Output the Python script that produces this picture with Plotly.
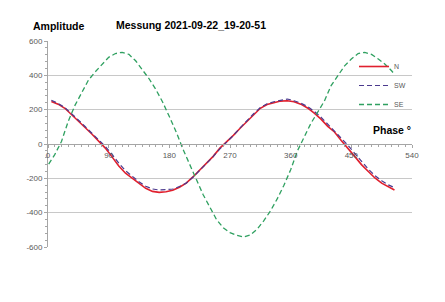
import plotly.graph_objects as go

# ---- data ----
phase_n = [5, 15, 25, 35, 45, 55, 65, 75, 85, 95, 105, 115, 125, 135, 145, 155, 165, 175, 185, 195,
           205, 215, 225, 235, 245, 255, 265, 275, 285, 295, 305, 315, 325, 335, 345, 355, 365, 375,
           385, 395, 405, 415, 425, 435, 445, 455, 465, 475, 485, 495, 505, 514]
n_vals = [248, 232, 208, 172, 134, 96, 58, 18, -24, -75, -128, -170, -200, -232, -258, -276, -282, -278,
          -270, -252, -228, -192, -152, -112, -72, -24, 12, 50, 92, 132, 172, 208, 230, 242, 250, 252,
          246, 232, 210, 180, 145, 103, 70, 20, -24, -72, -120, -160, -198, -228, -250, -268]
sw_vals = [255, 236, 212, 178, 140, 102, 64, 26, -14, -60, -112, -156, -190, -220, -246, -262, -268, -266,
           -262, -248, -228, -194, -156, -114, -74, -28, 10, 50, 94, 136, 176, 212, 234, 246, 256, 262,
           252, 238, 218, 190, 156, 116, 80, 34, -8, -56, -104, -146, -184, -214, -238, -254]

phase_se = [1, 10, 20, 25, 30, 40, 50, 60, 70, 80, 90, 100, 110, 120, 130, 140, 150, 160, 170, 180,
            190, 200, 210, 220, 230, 240, 250, 260, 270, 280, 290, 300, 310, 320, 330, 340, 350, 360,
            370, 380, 390, 400, 410, 420, 430, 440, 450, 460, 470, 480, 490, 500, 510, 514]
se_vals = [-117, -62, 15, 80, 132, 225, 300, 372, 420, 464, 505, 527, 534, 522, 485, 432, 380, 318, 245,
           160, 72, -28, -112, -206, -294, -370, -440, -488, -516, -532, -542, -530, -497, -448, -390,
           -320, -240, -150, -40, 40, 120, 185, 250, 340, 400, 455, 495, 527, 534, 522, 495, 465, 425, 406]

x_ticks = [0, 90, 180, 270, 360, 450, 540]
y_ticks = [-600, -400, -200, 0, 200, 400, 600]

title_text = "Messung 2021-09-22_19-20-51"
y_label = "Amplitude"
x_label = "Phase °"

W, H = 445, 302
L, R, T, B = 48, 33, 41, 55
pw, ph = W - L - R, H - T - B

def px(xp):
    return (xp - L) / pw

def py(yp):
    return (H - B - yp) / ph

fig = go.Figure()
fig.add_trace(go.Scatter(x=phase_n, y=n_vals, name="N", mode="lines",
                         line=dict(color="#e0202e", width=1.6)))
fig.add_trace(go.Scatter(x=phase_n, y=sw_vals, name="SW", mode="lines",
                         line=dict(color="#4b3a8e", width=1.2, dash="5px,3px")))
fig.add_trace(go.Scatter(x=phase_se, y=se_vals, name="SE", mode="lines",
                         line=dict(color="#2fa060", width=1.3, dash="5px,3px")))

tick_font = dict(family="Liberation Sans, Arial, sans-serif", size=8, color="#595959")
bold_font = dict(family="Liberation Sans, Arial, sans-serif", size=10.5, color="#000000")

fig.update_layout(
    width=W, height=H,
    margin=dict(l=L, r=R, t=T, b=B),
    paper_bgcolor="white", plot_bgcolor="white",
    showlegend=True,
    legend=dict(x=px(354), y=py(52), xanchor="left", yanchor="top",
                font=dict(family="Liberation Sans, Arial, sans-serif", size=7, color="#595959"),
                bgcolor="rgba(0,0,0,0)", tracegroupgap=0, itemwidth=30),
    xaxis=dict(range=[0, 540], tickvals=x_ticks, ticktext=[str(v) for v in x_ticks],
               anchor="free", position=0.5, showgrid=False, zeroline=False,
               showline=True, linecolor="#a6a6a6", linewidth=1,
               ticks="outside", ticklen=3, tickcolor="#a6a6a6",
               minor=dict(dtick=10, ticks="outside", ticklen=2, tickcolor="#a6a6a6", showgrid=False),
               tickfont=tick_font),
    yaxis=dict(range=[-600, 600], tickvals=y_ticks, ticktext=[str(v) for v in y_ticks],
               showgrid=True, gridcolor="#c8c8c8", gridwidth=1, zeroline=False,
               showline=True, linecolor="#a6a6a6", linewidth=1,
               ticks="outside", ticklen=3, tickcolor="#a6a6a6",
               minor=dict(dtick=40, ticks="outside", ticklen=2, tickcolor="#a6a6a6", showgrid=False),
               tickfont=tick_font, domain=[0, 1]),
    annotations=[
        dict(text="<b>" + title_text + "</b>", xref="paper", yref="paper", x=px(191), y=py(25),
             xanchor="center", yanchor="middle", showarrow=False, font=bold_font),
        dict(text="<b>" + y_label + "</b>", xref="paper", yref="paper", x=px(58), y=py(26),
             xanchor="center", yanchor="middle", showarrow=False, font=bold_font),
        dict(text="<b>" + x_label + "</b>", xref="paper", yref="paper", x=px(392), y=py(130),
             xanchor="center", yanchor="middle", showarrow=False, font=bold_font),
    ],
)

fig.write_html("out.html")
